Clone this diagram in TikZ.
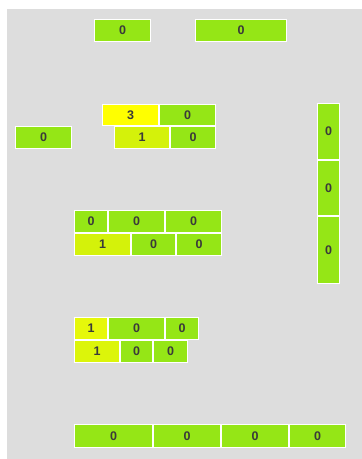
\documentclass[tikz,border=0pt]{standalone}
\usepackage{fontspec}
\setmainfont{Liberation Sans}
\definecolor{bg}{HTML}{DDDDDD}
\definecolor{grn}{HTML}{95E616}
\definecolor{yel}{HTML}{FFFF00}
\definecolor{ylA}{HTML}{D4F20A}
\definecolor{ylB}{HTML}{E6F80A}
\definecolor{ylC}{HTML}{DCF50A}
\definecolor{txt}{HTML}{3A3A3A}
\newcommand\cellbox[7]{\node[cellst, fill=#6, minimum width={#4-#2-1}, minimum height={#5-#3-1}] (#1) at ({(#2+#4)/2},{(#3+#5)/2}) {#7};}
\begin{document}
\begin{tikzpicture}[x=1pt,y=-1pt,
  cellst/.style={draw=white, line width=1pt, inner sep=0pt, outer sep=0pt,
    font=\fontsize{12.5}{15}\selectfont\bfseries, text=txt}]
\useasboundingbox (0,0) rectangle (362,459);
\fill[bg] (7,9) rectangle (362,459);
% top
\cellbox{t1}{94}{19}{151}{42}{grn}{0}
\cellbox{t2}{195}{19}{287}{42}{grn}{0}
% left
\cellbox{l1}{15}{126}{72}{149}{grn}{0}
% group A
\cellbox{a1}{102}{104}{159}{126}{yel}{3}
\cellbox{a2}{159}{104}{216}{126}{grn}{0}
\cellbox{a3}{114}{126}{170}{149}{ylA}{1}
\cellbox{a4}{170}{126}{216}{149}{grn}{0}
% column
\cellbox{c1}{317}{103}{340}{160}{grn}{0}
\cellbox{c2}{317}{160}{340}{216}{grn}{0}
\cellbox{c3}{317}{216}{340}{284}{grn}{0}
% group B
\cellbox{b1}{74}{210}{108}{233}{grn}{0}
\cellbox{b2}{108}{210}{165}{233}{grn}{0}
\cellbox{b3}{165}{210}{222}{233}{grn}{0}
\cellbox{b4}{74}{233}{131}{256}{ylA}{1}
\cellbox{b5}{131}{233}{176}{256}{grn}{0}
\cellbox{b6}{176}{233}{222}{256}{grn}{0}
% group C
\cellbox{d1}{74}{317}{108}{340}{ylB}{1}
\cellbox{d2}{108}{317}{165}{340}{grn}{0}
\cellbox{d3}{165}{317}{199}{340}{grn}{0}
\cellbox{d4}{74}{340}{120}{363}{ylC}{1}
\cellbox{d5}{120}{340}{153}{363}{grn}{0}
\cellbox{d6}{153}{340}{188}{363}{grn}{0}
% bottom
\cellbox{e1}{74}{424}{153}{448}{grn}{0}
\cellbox{e2}{153}{424}{221}{448}{grn}{0}
\cellbox{e3}{221}{424}{289}{448}{grn}{0}
\cellbox{e4}{289}{424}{346}{448}{grn}{0}
\end{tikzpicture}
\end{document}
